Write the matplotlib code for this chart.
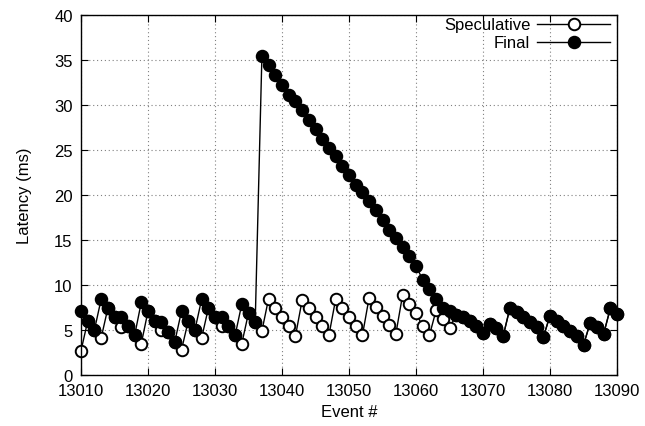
import numpy as np
import matplotlib
matplotlib.use("Agg")
import matplotlib.pyplot as plt
from matplotlib.lines import Line2D

plt.rcParams['font.family'] = ['Liberation Sans', 'DejaVu Sans']

events = np.arange(13010, 13091)

final = [7.1, 6.0, 5.0, 8.4, 7.4, 6.4, 6.5, 5.5, 4.4, 8.1,
         7.1, 6.0, 5.9, 4.8, 3.7, 7.1, 6.0, 5.0, 8.4, 7.4,
         6.5, 6.4, 5.4, 4.4, 7.9, 6.9, 5.9, 35.5, 34.4, 33.3,
         32.2, 31.1, 30.4, 29.4, 28.3, 27.3, 26.2, 25.2, 24.3, 23.2,
         22.2, 21.1, 20.3, 19.3, 18.3, 17.2, 16.1, 15.2, 14.2, 13.2,
         12.1, 10.6, 9.6, 8.4, 7.4, 7.1, 6.7, 6.4, 6.0, 5.5,
         4.7, 5.7, 5.2, 4.3, 7.4, 7.0, 6.4, 5.9, 5.3, 4.2,
         6.6, 6.0, 5.5, 4.9, 4.35, 3.35, 5.8, 5.3, 4.55, 7.4,
         6.8]

speculative = [2.7, 6.0, 5.0, 4.1, 7.4, 6.4, 5.3, 5.5, 4.4, 3.5,
               7.1, 6.0, 5.0, 4.8, 3.7, 2.8, 6.0, 5.0, 4.1, 7.4,
               6.5, 5.4, 5.4, 4.4, 3.5, 6.9, 5.9, 4.9, 8.5, 7.5,
               6.5, 5.4, 4.3, 8.3, 7.4, 6.4, 5.4, 4.4, 8.4, 7.5,
               6.4, 5.4, 4.4, 8.6, 7.6, 6.6, 5.6, 4.6, 8.9, 7.9,
               6.9, 5.4, 4.4, 7.2, 6.2, 5.2, 6.7, 6.4, 6.0, 5.5,
               4.7, 5.7, 5.2, 4.3, 7.4, 7.0, 6.4, 5.9, 5.3, 4.2,
               6.6, 6.0, 5.5, 4.9, 4.35, 3.35, 5.8, 5.3, 4.55, 7.4,
               6.8]

fs = 12
ms = 8.3

fig = plt.figure(figsize=(6.45, 4.27), dpi=100)
ax = fig.add_axes([0.1256, 0.1194, 0.831, 0.843])

ax.plot(events, speculative, "k-", lw=1.0, marker="o", ms=ms,
        mfc="white", mec="black", mew=1.4, zorder=3, clip_on=False)
ax.plot(events, final, "k-", lw=1.0, marker="o", ms=ms,
        mfc="black", mec="black", mew=1.4, zorder=4, clip_on=False)

ax.set_xlim(13010, 13090)
ax.set_ylim(0, 40)
ax.set_xticks(np.arange(13010, 13091, 10))
ax.set_yticks(np.arange(0, 41, 5))
ax.tick_params(direction="in", length=5, top=True, right=True, labelsize=fs, pad=6)
ax.grid(True, color="0.5", linestyle=(0, (1, 2.5)), linewidth=0.8, zorder=0)
ax.set_axisbelow(True)
for s in ax.spines.values():
    s.set_linewidth(1.0)
    s.set_zorder(5)

ax.set_xlabel("Event #", fontsize=fs, labelpad=4)
ax.set_ylabel("Latency (ms)", fontsize=fs, labelpad=16)

# gnuplot style key: text right-aligned, sample to the right
keys = [("Speculative", "white"), ("Final", "black")]
rows = [0.975, 0.925]
for (name, fc), y in zip(keys, rows):
    ax.text(0.838, y, name, transform=ax.transAxes, ha="right", va="center", fontsize=fs)
    ax.add_line(Line2D([0.851, 0.987], [y, y], transform=ax.transAxes, color="black", lw=1.0))
    ax.add_line(Line2D([0.919], [y], transform=ax.transAxes, marker="o", ms=ms,
                       mfc=fc, mec="black", mew=1.4, ls="none"))

fig.savefig("out.png", dpi=100)
